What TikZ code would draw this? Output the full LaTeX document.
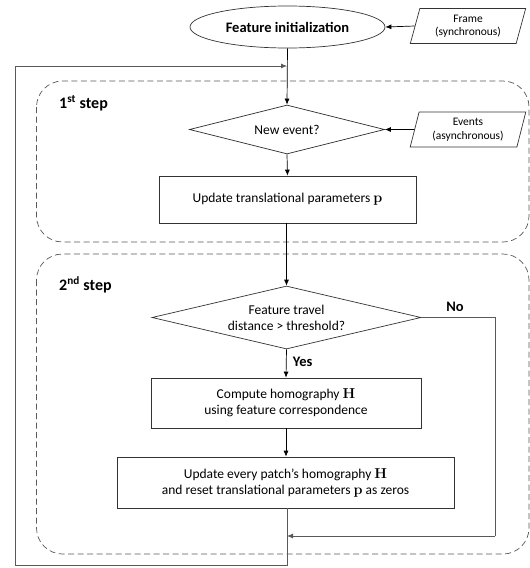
\documentclass[tikz,border=0pt]{standalone}
\usepackage[no-math]{fontspec}
\setmainfont{Carlito}
\usetikzlibrary{shapes.geometric,arrows.meta}
\begin{document}
\begin{tikzpicture}[x=1pt,y=-1pt,
  font=\fontsize{13.5}{16}\selectfont,
  box/.style={draw=black!80,line width=0.7pt,rectangle,inner sep=0pt,align=center},
  dia/.style={draw=black!80,line width=0.7pt,diamond,inner sep=0pt,align=center},
  para/.style={draw=black!80,line width=0.7pt,trapezium,trapezium left angle=74,trapezium right angle=106,trapezium stretches=true,inner sep=0pt,align=center,font=\fontsize{11.5}{13.5}\selectfont},
  grp/.style={draw=black!65,line width=0.7pt,dash pattern=on 6pt off 3.5pt,rounded corners=26pt},
  flow/.style={draw=black,line width=0.7pt,-{Latex[length=6pt,width=5pt]}},
  loop/.style={draw=black!65,line width=0.8pt},
  lbl/.style={font=\fontsize{14.5}{17}\selectfont\bfseries},
  ttl/.style={font=\fontsize{16}{19}\selectfont\bfseries}]
\useasboundingbox (0,0) rectangle (530,568);

% groups
\draw[grp] (36.5,81) rectangle (529,242);
\draw[grp] (36.5,254) rectangle (529,554);
\node[ttl,anchor=west,inner sep=0pt] (s1) at (59,103) {1\textsuperscript{st} step};
\node[ttl,anchor=west,inner sep=0pt] (s2) at (59,285) {2\textsuperscript{nd} step};

% nodes
\node[draw=black!80,line width=0.7pt,ellipse,minimum width=195pt,minimum height=42pt,inner sep=0pt,font=\fontsize{14.5}{17}\selectfont\bfseries] (init) at (287.5,27) {Feature initialization};
\node[para,minimum width=116pt,minimum height=35pt] (frame) at (468,26) {Frame\\(synchronous)};
\node[dia,minimum width=195pt,minimum height=49pt,aspect=4] (d1) at (287,129.5) {New event?};
\node[para,minimum width=116pt,minimum height=35pt] (events) at (468,129.5) {Events\\(asynchronous)};
\node[box,minimum width=257pt,minimum height=47pt] (r1) at (287.5,199.5) {Update translational parameters \(\mathbf{p}\)};
\node[dia,minimum width=269pt,minimum height=63pt,aspect=4.3] (d2) at (286.5,317.5) {Feature travel\\distance > threshold?};
\node[box,minimum width=270pt,minimum height=50pt] (r2) at (286,403) {Compute homography \(\mathbf{H}\)\\using feature correspondence};
\node[box,minimum width=337pt,minimum height=51pt] (r3) at (285.5,482.5) {Update every patch’s homography \(\mathbf{H}\)\\and reset translational parameters \(\mathbf{p}\) as zeros};

% coordinates
\coordinate (join) at (287,66);
\coordinate (bot) at (287,565);
\coordinate (bl) at (15,565);
\coordinate (tl) at (15,66);
\coordinate (nr) at (495,317.5);
\coordinate (nb) at (495,536);
\coordinate (nm) at (287,536);

% connectors
\draw[flow] (frame.west) -- (init.east);
\draw[flow] (events.west) -- (d1.east);
\draw[flow] (init.south) -- (d1.north);
\draw[flow] (d1.south) -- (r1.north);
\draw[flow] (r1.south -| d2.north) -- (d2.north);
\draw[flow] (d2.south) -- node[lbl,right,pos=0.45,xshift=3pt] (yes) {Yes} (r2.north);
\draw[flow] (r2.south) -- (r3.north -| r2.south);
\draw[loop] (r3.south -| bot) -- (bot) -- (bl) -- (tl);
\draw[loop,-{Latex[length=6pt,width=5pt]}] (tl) -- (join);
\draw[loop] (d2.east) -- (nr) -- (nb);
\draw[loop,-{Latex[length=6pt,width=5pt]}] (nb) -- (nm);
\node[lbl,anchor=center] (no) at (455,307) {No};
\end{tikzpicture}
\end{document}
